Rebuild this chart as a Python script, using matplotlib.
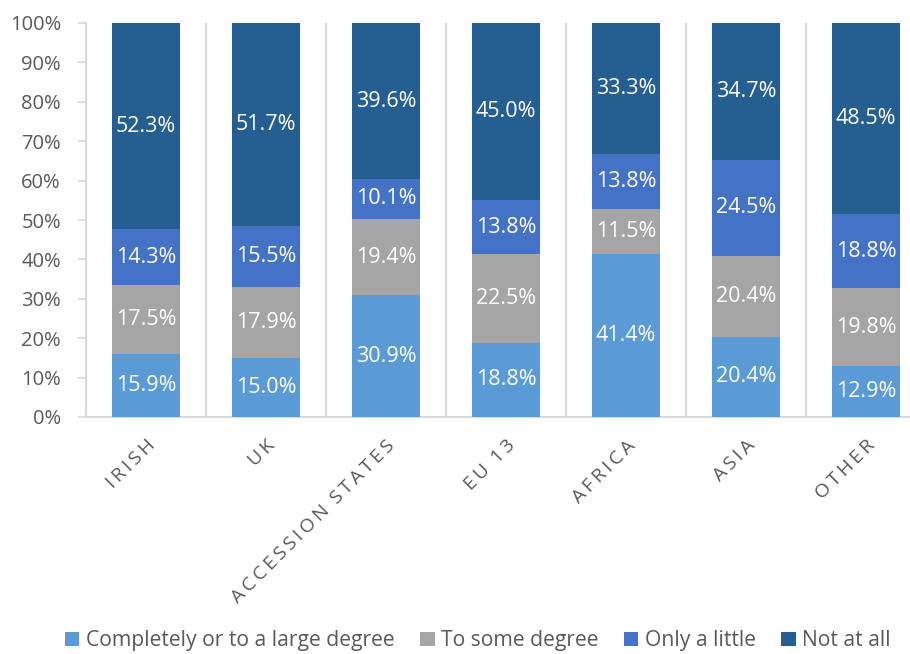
import matplotlib
matplotlib.use('Agg')
import matplotlib.pyplot as plt
import numpy as np

# data
categories = ['IRISH', 'UK', 'ACCESSION STATES', 'EU 13', 'AFRICA', 'ASIA', 'OTHER']
series_names = ['Completely or to a large degree', 'To some degree', 'Only a little', 'Not at all']
completely = [15.9, 15.0, 30.9, 18.8, 41.4, 20.4, 12.9]
some_degree = [17.5, 17.9, 19.4, 22.5, 11.5, 20.4, 19.8]
only_little = [14.3, 15.5, 10.1, 13.8, 13.8, 24.5, 18.8]
not_at_all = [52.3, 51.7, 39.6, 45.0, 33.3, 34.7, 48.5]
colors = ['#5B9BD5', '#A5A5A5', '#4472C4', '#255E91']

plt.rcParams['font.family'] = ['Open Sans', 'DejaVu Sans']
txt_col = '#595959'
grid_col = '#D9D9D9'

fig = plt.figure(figsize=(9.1, 6.54), dpi=100)
ax = fig.add_axes([86 / 910, 1 - 417 / 654, 840 / 910, 394 / 654])

x = np.arange(len(categories))
bottom = np.zeros(len(categories))
for name, vals, c in zip(series_names, [completely, some_degree, only_little, not_at_all], colors):
    vals = np.array(vals)
    ax.bar(x, vals, 0.56, bottom=bottom, color=c, label=name, zorder=3)
    for xi, b, v in zip(x, bottom, vals):
        ax.text(xi, b + v / 2, f'{v:.1f}%', ha='center', va='center',
                color='white', fontsize=15.5, zorder=4)
    bottom += vals

ax.set_xlim(-0.5, len(categories) - 0.5)
ax.set_ylim(0, 100)
ax.set_yticks(range(0, 101, 10))
ax.set_yticklabels([f'{v}%' for v in range(0, 101, 10)], fontsize=14.5, color=txt_col)

# spaced-out category labels
spaced = ['\u2009'.join(list(c)).replace('\u2009 \u2009', '\u2009\u2009\u2009') for c in categories]
ax.set_xticks(x)
ax.set_xticklabels(spaced, rotation=45, ha='right', rotation_mode='anchor',
                   fontsize=14, color=txt_col)
ax.tick_params(axis='x', length=0, pad=14)
ax.tick_params(axis='y', length=6, color=grid_col, width=1.2, pad=12)

ax.set_xticks(np.arange(-0.5, len(categories), 1), minor=True)
ax.tick_params(axis='x', which='minor', length=0)
ax.grid(axis='x', which='minor', color=grid_col, linewidth=1.5, zorder=0)
ax.grid(axis='x', which='major', visible=False)

for s in ['top', 'right']:
    ax.spines[s].set_visible(False)
ax.spines['left'].set_color(grid_col)
ax.spines['bottom'].set_color(grid_col)
ax.spines['left'].set_linewidth(1.5)
ax.spines['bottom'].set_linewidth(1.5)

fig.legend(loc='lower center', bbox_to_anchor=(0.525, -0.025), ncol=4, frameon=False,
           fontsize=15.2, handlelength=0.7, handleheight=0.7, handletextpad=0.3,
           columnspacing=1.2, labelcolor=txt_col)

fig.savefig('out.png', dpi=100)
